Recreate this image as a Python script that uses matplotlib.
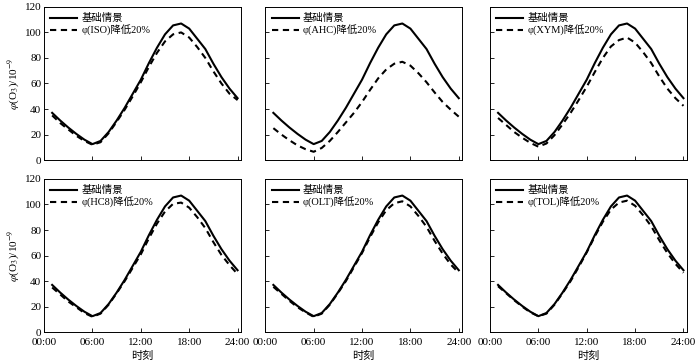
import numpy as np
import matplotlib
matplotlib.use("Agg")
import matplotlib.pyplot as plt

plt.rcParams['font.family'] = ['Liberation Serif', 'Noto Sans CJK SC']
plt.rcParams['mathtext.fontset'] = 'stix'

# 时刻 (h)
horas = [1, 2, 3, 4, 5, 6, 7, 8, 9, 10, 11, 12, 13, 14, 15, 16, 17, 18, 19, 20, 21, 22, 23, 24]

# 基础情景
base = [37, 31, 25.5, 20.5, 16, 12.5, 15, 22, 31, 41, 52, 63, 76, 88, 98.5, 105.5, 107, 103, 95, 87, 75.5, 65, 56, 48.5]

# 各物种降低20%
iso = [35, 29, 24, 19, 15, 12, 14, 21, 30, 39.5, 50, 61, 73, 84, 93, 98.5, 100, 96, 88.5, 80, 69.5, 60, 52, 47]
ahc = [25, 20, 15.5, 11.5, 8.5, 6.5, 9.5, 15, 22, 29.5, 37, 45.5, 55, 64, 71, 75.5, 77, 74, 68, 61, 53, 45.5, 39.5, 34]
xym = [33, 27.5, 22, 17.5, 13.5, 10.5, 13, 19.5, 28, 37, 47, 57.5, 69, 80, 89, 94, 96, 92, 84.5, 76, 65.5, 56, 48.5, 42.5]
hc8 = [35, 29.5, 24, 19.5, 15, 12, 14.5, 21.5, 30.5, 40, 50.5, 61, 73.5, 85, 94.5, 100.5, 101.5, 97.5, 90, 81.5, 70.5, 60.5, 52.5, 45.5]
olt = [35.5, 30, 24.5, 19.5, 15.5, 12, 14.5, 21.5, 30.5, 40, 51, 62, 74.5, 86, 95.5, 101, 102.5, 98.5, 91, 82.5, 71.5, 61.5, 53, 46.5]
tol = [36, 30.5, 25, 20, 15.5, 12.5, 14.5, 21.5, 30.5, 40, 51, 62.5, 75, 86.5, 96, 101.5, 103, 99, 91.5, 83, 72, 62, 53.5, 46.5]

especies = ['ISO', 'AHC', 'XYM', 'HC8', 'OLT', 'TOL']
series = [iso, ahc, xym, hc8, olt, tol]

xticks = [0, 6, 12, 18, 24]
xticklabels = ['00:00', '06:00', '12:00', '18:00', '24:00']
yticks = [0, 20, 40, 60, 80, 100, 120]

fig = plt.figure(figsize=(7, 3.63), dpi=100)

lefts = [0.063, 0.379, 0.700]
bottoms = [0.559, 0.085]
w, h = 0.281, 0.422

for i, (nome, dados) in enumerate(zip(especies, series)):
    linha, col = divmod(i, 3)
    ax = fig.add_axes([lefts[col], bottoms[linha], w, h])
    ax.plot(horas, base, color='black', lw=1.5, label='基础情景')
    ax.plot(horas, dados, color='black', lw=1.5, ls=(0, (3, 2.2)),
            label='φ(' + nome + ')降低20%')
    ax.set_xlim(0, 24.4)
    ax.set_ylim(0, 120)
    ax.set_xticks(xticks)
    ax.set_yticks(yticks)
    ax.tick_params(direction='in', length=3, width=0.6, labelsize=8, pad=2)
    ax.tick_params(axis='x', pad=4)
    for s in ax.spines.values():
        s.set_linewidth(0.7)
    if linha == 1:
        ax.set_xticklabels(xticklabels)
        ax.set_xlabel('时刻', fontsize=8, labelpad=3)
    else:
        ax.set_xticklabels([])
    if col == 0:
        ax.set_ylabel(r'$\varphi$(O$_3$)/10$^{-9}$', fontsize=8, labelpad=2)
    else:
        ax.set_yticklabels([])
    ax.legend(loc='upper left', frameon=False, fontsize=7.5, handlelength=2.6,
              handletextpad=0.4, borderaxespad=0.2, labelspacing=0.15)

plt.savefig('out.png', dpi=100)
plt.close()
